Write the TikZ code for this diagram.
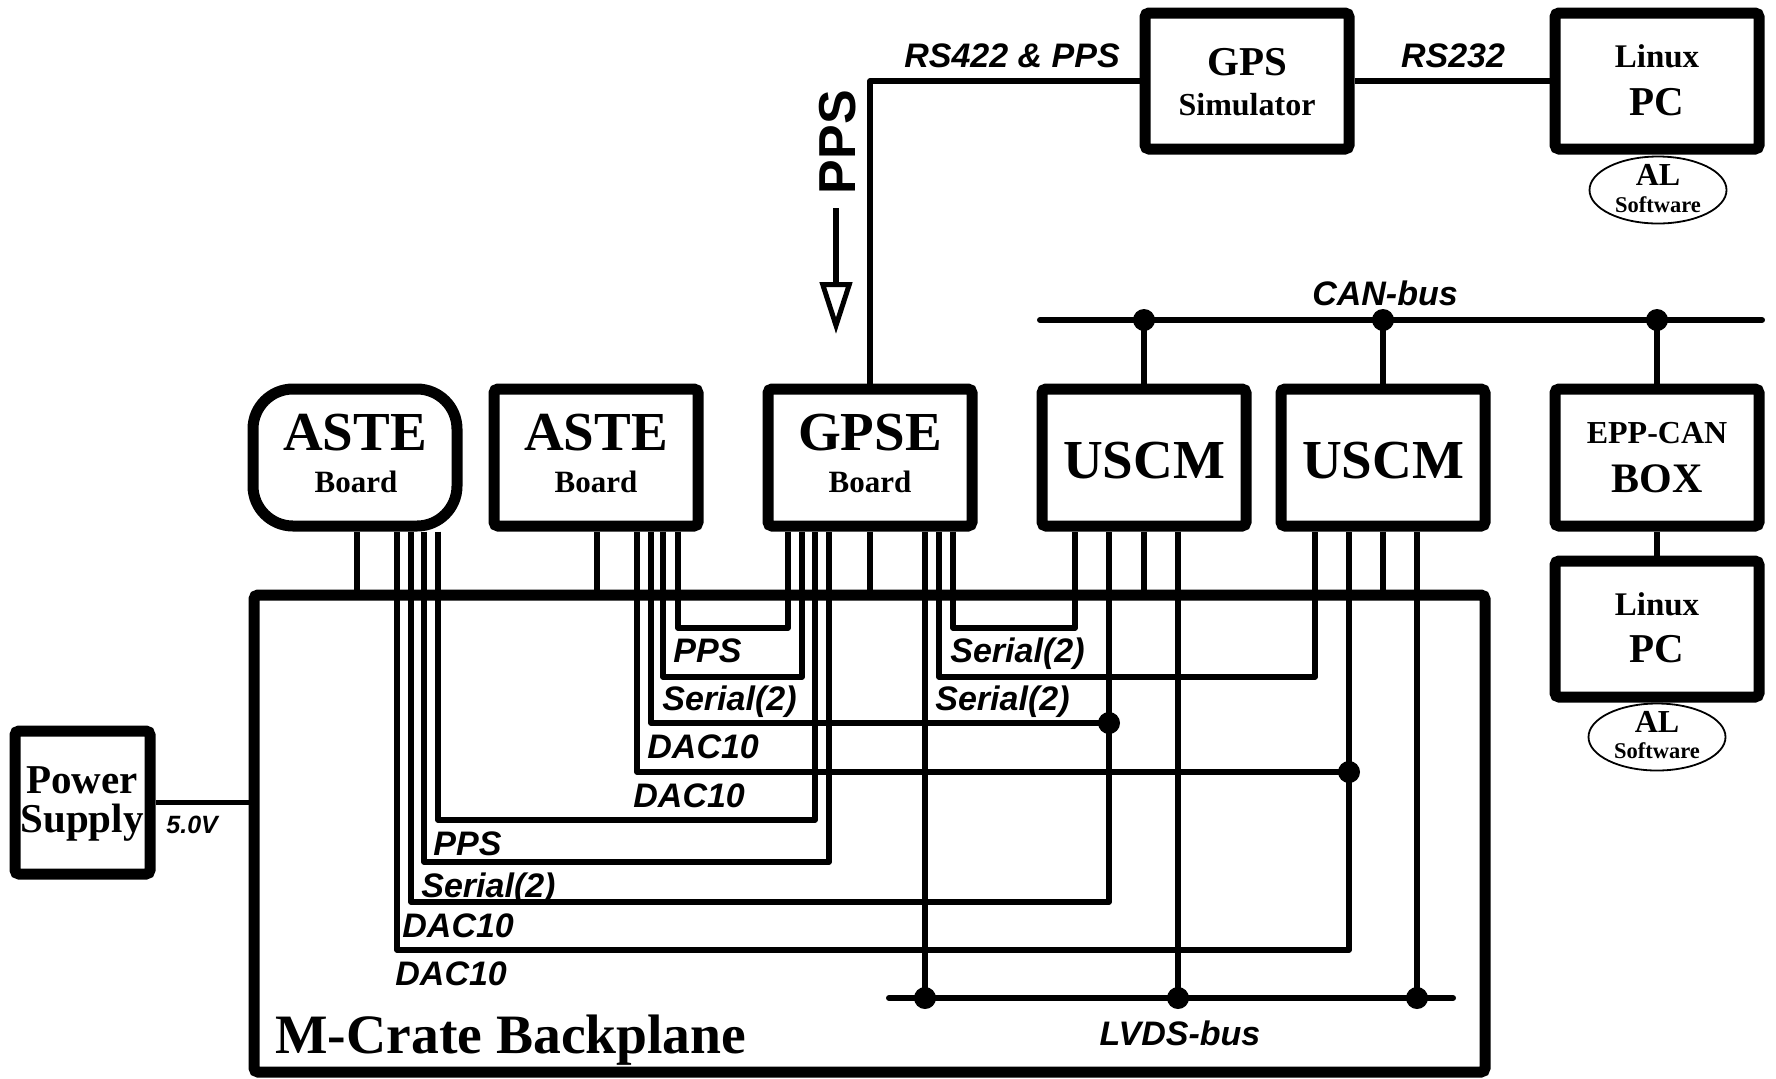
\documentclass[tikz,border=0pt]{standalone}
\usepackage{fontspec}
\setmainfont{Liberation Serif}
\newfontfamily\labfont{Liberation Sans}
\usetikzlibrary{arrows.meta,shapes.geometric}
\newcommand{\fsz}[1]{\fontsize{#1}{#1}\selectfont}
\tikzset{
  box/.style={draw, line width=5.5pt, rounded corners=2pt, fill=white, inner sep=0pt,
              minimum width=102pt, minimum height=68.5pt},
  wire/.style={line width=2.75pt, line join=round},
  bus/.style={line width=3pt, line cap=round},
  dot/.style={circle, fill=black, inner sep=0pt, minimum size=11pt},
  ell/.style={ellipse, draw, line width=0.9pt, inner sep=0pt, minimum width=68.5pt, minimum height=33.5pt},
  txt/.style={inner sep=0pt, anchor=base, font=\bfseries},
  lab/.style={inner sep=0pt, anchor=base west, font=\labfont\bfseries\itshape\fsz{17}},
  labc/.style={lab, anchor=base},
}
\begin{document}
\begin{tikzpicture}[x=0.5pt, y=-0.5pt]
\useasboundingbox (0,0) rectangle (1776,1078);

% backplane
\node[draw, line width=5.5pt, rounded corners=2pt, inner sep=0pt, minimum width=615.5pt, minimum height=238.5pt] (bp) at (869.5,833.5) {};
\node[txt, anchor=base west, font=\bfseries\fsz{27.8}] (bptxt) at (275,1053) {M-Crate Backplane};

% boxes
\node[box, rounded corners=20pt] (aste1) at (355,457.5) {};
\node[box] (aste2) at (596,457.5) {};
\node[box] (gpse) at (870,457.5) {};
\node[box] (uscm1) at (1144,457.5) {};
\node[box] (uscm2) at (1383,457.5) {};
\node[box] (epp) at (1657,457.5) {};
\node[box, minimum height=68pt] (linux2) at (1657,629) {};
\node[box, minimum height=68pt] (gpssim) at (1247,81) {};
\node[box, minimum height=68pt] (linux1) at (1657,81) {};
\node[box, minimum width=67.5pt, minimum height=71.5pt] (ps) at (82.5,802.5) {};
\node[ell] (al1) at (1658,190) {};
\node[ell] (al2) at (1657,737) {};

% box texts
\node[txt, font=\bfseries\fsz{27.5}] (t1a) at (355,450) {ASTE};
\node[txt, font=\bfseries\fsz{15.5}] (t1b) at (356,492) {Board};
\node[txt, font=\bfseries\fsz{27.5}] (t2a) at (596,450) {ASTE};
\node[txt, font=\bfseries\fsz{15.5}] (t2b) at (596,492) {Board};
\node[txt, font=\bfseries\fsz{27.5}] (t3a) at (870,450) {GPSE};
\node[txt, font=\bfseries\fsz{15.5}] (t3b) at (870,492) {Board};
\node[txt, font=\bfseries\fsz{27.5}] (t4) at (1144,478) {USCM};
\node[txt, font=\bfseries\fsz{27.5}] (t5) at (1383,478) {USCM};
\node[txt, font=\bfseries\fsz{16}] (t6a) at (1657,443) {EPP-CAN};
\node[txt, font=\bfseries\fsz{21}] (t6b) at (1657,492) {BOX};
\node[txt, font=\bfseries\fsz{16.5}] (t7a) at (1657,615) {Linux};
\node[txt, font=\bfseries\fsz{20.5}] (t7b) at (1657,662) {PC};
\node[txt, font=\bfseries\fsz{16}] (t8a) at (1657,732) {AL};
\node[txt, font=\bfseries\fsz{11.25}] (t8b) at (1657,758) {Software};
\node[txt, font=\bfseries\fsz{20.5}] (t9a) at (1247,75) {GPS};
\node[txt, font=\bfseries\fsz{16}] (t9b) at (1247,115) {Simulator};
\node[txt, font=\bfseries\fsz{16.5}] (t10a) at (1657,67) {Linux};
\node[txt, font=\bfseries\fsz{20.5}] (t10b) at (1657,115) {PC};
\node[txt, font=\bfseries\fsz{16}] (t11a) at (1658,185) {AL};
\node[txt, font=\bfseries\fsz{11.25}] (t11b) at (1658,212) {Software};
\node[txt, font=\bfseries\fsz{20.5}] (t12a) at (82,793) {Power};
\node[txt, font=\bfseries\fsz{20.5}] (t12b) at (82,832) {Supply};

% dots
\node[dot] (can1) at (1144,320) {};
\node[dot] (can2) at (1383,320) {};
\node[dot] (can3) at (1657,320) {};
\node[dot] (du1) at (1109,723) {};
\node[dot] (du2) at (1349,772) {};
\node[dot] (lv1) at (925,998) {};
\node[dot] (lv2) at (1178,998) {};
\node[dot] (lv3) at (1417,998) {};
\coordinate (canL) at (1040,320);
\coordinate (canR) at (1762,320);
\coordinate (lvL) at (889,998);
\coordinate (lvR) at (1453,998);

% top connections
\draw[wire] (gpse.north) |- (gpssim.west);
\draw[wire] (gpssim.east) -- (linux1.west);
\draw[bus] (canL) -- (canR);
\draw[wire] (can1.center) -- (uscm1.north);
\draw[wire] (can2.center) -- (uscm2.north);
\draw[wire] (can3.center) -- (epp.north);
\draw[wire] (epp.south) -- (linux2.north);
\draw[wire] (ps.east) -- (ps.east -| bp.west);
\draw[bus] (lvL) -- (lvR);

% stubs to backplane
\draw[wire] (aste1.south -| 357,0) -- (bp.north -| 357,0);
\draw[wire] (aste2.south -| 597,0) -- (bp.north -| 597,0);
\draw[wire] (gpse.south -| 870,0) -- (bp.north -| 870,0);
\draw[wire] (uscm1.south -| 1144,0) -- (bp.north -| 1144,0);
\draw[wire] (uscm2.south -| 1383,0) -- (bp.north -| 1383,0);

% wiring
\draw[wire] (aste2.south -| 678,0) -- (678,628) -| (gpse.south -| 788,0);
\draw[wire] (aste2.south -| 663,0) -- (663,677) -| (gpse.south -| 802,0);
\draw[wire] (aste2.south -| 651,0) |- (du1.center);
\draw[wire] (aste2.south -| 637,0) |- (du2.center);
\draw[wire] (aste1.south -| 438,0) -- (438,820) -| (gpse.south -| 815,0);
\draw[wire] (aste1.south -| 424,0) -- (424,862) -| (gpse.south -| 829,0);
\draw[wire] (aste1.south -| 411,0) -- (411,902) -| (uscm1.south -| 1109,0);
\draw[wire] (aste1.south -| 397,0) -- (397,950) -| (uscm2.south -| 1349,0);
\draw[wire] (gpse.south -| 953,0) -- (953,628) -| (uscm1.south -| 1075,0);
\draw[wire] (gpse.south -| 939,0) -- (939,677) -| (uscm2.south -| 1315,0);
\draw[wire] (gpse.south -| 925,0) -- (lv1.center);
\draw[wire] (uscm1.south -| 1178,0) -- (lv2.center);
\draw[wire] (uscm2.south -| 1417,0) -- (lv3.center);

% labels
\node[lab] (l1) at (673,662) {PPS};
\node[lab] (l2) at (662,710) {Serial(2)};
\node[lab] (l3) at (647,758) {DAC10};
\node[lab] (l4) at (633,807) {DAC10};
\node[lab] (l5) at (433,855) {PPS};
\node[lab] (l6) at (421,897) {Serial(2)};
\node[lab] (l7) at (402,937) {DAC10};
\node[lab] (l8) at (395,985) {DAC10};
\node[lab] (l9) at (950,662) {Serial(2)};
\node[lab] (l10) at (935,710) {Serial(2)};
\node[labc] (lvds) at (1180,1045) {LVDS-bus};
\node[labc] (canb) at (1385,305) {CAN-bus};
\node[labc] (rs422) at (1012,67) {RS422 \& PPS};
\node[labc] (rs232) at (1453,67) {RS232};
\node[lab, font=\labfont\bfseries\itshape\fsz{12.5}] (v5) at (166,833) {5.0V};

% PPS arrow
\node[inner sep=0pt, rotate=90, font=\labfont\bfseries\fsz{26}] (ppsv) at (838,142) {PPS};
\coordinate (arrS) at (836,208);
\coordinate (arrE) at (836,334);
\draw[line width=2.75pt, -{Triangle[open, length=26pt, width=16pt, line width=2.5pt]}] (arrS) -- (arrE);
\end{tikzpicture}
\end{document}
